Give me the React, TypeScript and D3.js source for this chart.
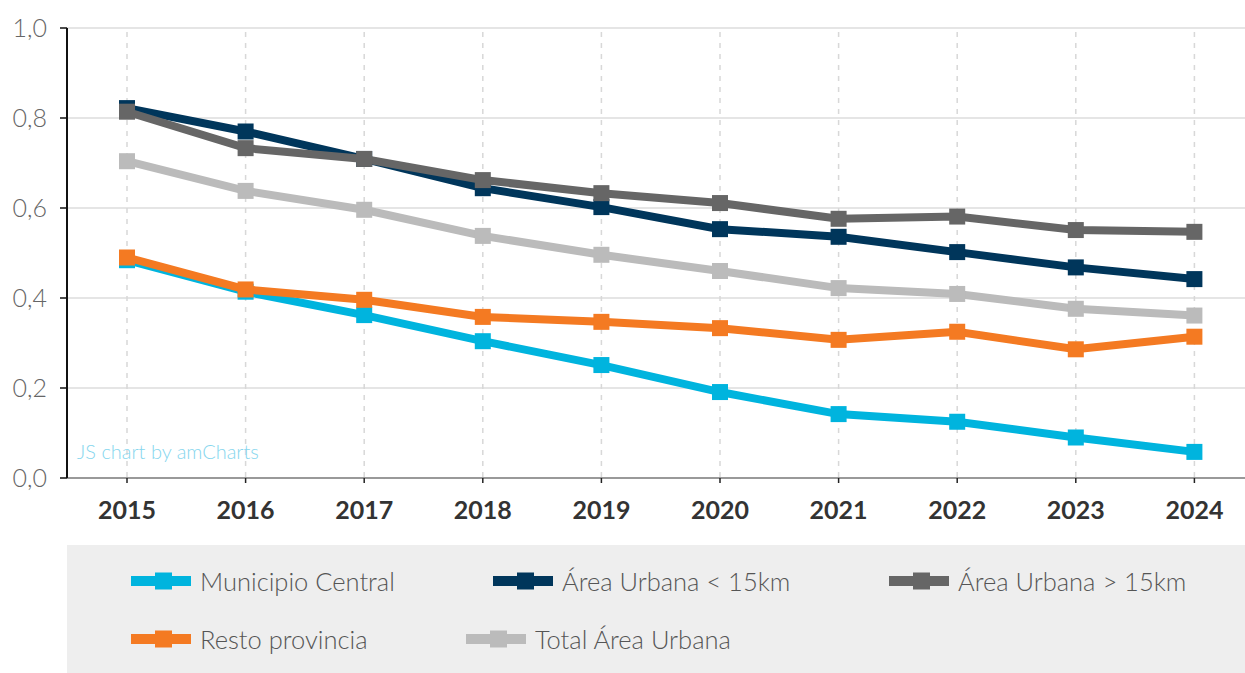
import React from "react";
import * as d3 from "d3";

const years = ["2015", "2016", "2017", "2018", "2019", "2020", "2021", "2022", "2023", "2024"];
const municipioCentral = [0.484, 0.414, 0.362, 0.304, 0.251, 0.191, 0.142, 0.125, 0.09, 0.058];
const areaMenos15 = [0.822, 0.77, 0.709, 0.644, 0.602, 0.553, 0.536, 0.502, 0.468, 0.442];
const areaMas15 = [0.814, 0.733, 0.709, 0.662, 0.633, 0.611, 0.576, 0.581, 0.551, 0.547];
const restoProvincia = [0.49, 0.419, 0.396, 0.358, 0.347, 0.333, 0.307, 0.325, 0.286, 0.314];
const totalAreaUrbana = [0.704, 0.638, 0.596, 0.538, 0.496, 0.46, 0.422, 0.409, 0.376, 0.361];
const yTicks = [0, 0.2, 0.4, 0.6, 0.8, 1.0];

const series = [
  { name: "Municipio Central", values: municipioCentral, color: "#00B4DE" },
  { name: "Área Urbana < 15km", values: areaMenos15, color: "#00365B" },
  { name: "Área Urbana > 15km", values: areaMas15, color: "#666666" },
  { name: "Resto provincia", values: restoProvincia, color: "#F47A22" },
  { name: "Total Área Urbana", values: totalAreaUrbana, color: "#BBBBBB" },
];

// legend placement (layout only)
const legendPos = [
  { x: 131, y: 581 },
  { x: 493, y: 581 },
  { x: 889, y: 581 },
  { x: 131, y: 639 },
  { x: 466, y: 639 },
];

export default function App() {
  const W = 1245, H = 673;
  const left = 67.7, right = 1253.7, top = 28, bottom = 478;
  const x = d3.scaleBand<string>().domain(years).range([left, right]);
  const y = d3.scaleLinear().domain([0, 1]).range([bottom, top]);
  const cx = (d: string) => (x(d) as number) + x.bandwidth() / 2;
  const line = d3
    .line<number>()
    .x((_, i) => cx(years[i]))
    .y((v) => y(v));
  const fmt = (v: number) => v.toFixed(1).replace(".", ",");
  const font = "Lato, 'Open Sans', sans-serif";

  return (
    <svg
      width={W}
      height={H}
      style={{ position: "absolute", left: 0, top: 0, background: "#fff" }}
      fontFamily={font}
    >
      {/* horizontal grid */}
      {yTicks.map((t) => (
        <line key={"g" + t} x1={67} x2={W} y1={y(t)} y2={y(t)} stroke="#dddddd" strokeWidth={1.5} />
      ))}
      {/* vertical dashed grid */}
      {years.map((yr) => (
        <line
          key={"v" + yr}
          x1={cx(yr)}
          x2={cx(yr)}
          y1={top + 4}
          y2={bottom}
          stroke="#d8d8d8"
          strokeWidth={1.5}
          strokeDasharray="5,6"
        />
      ))}
      {/* x axis */}
      <line x1={67} x2={W} y1={bottom} y2={bottom} stroke="#999" strokeWidth={2} />
      {years.map((yr) => (
        <line key={"xt" + yr} x1={cx(yr)} x2={cx(yr)} y1={bottom} y2={bottom + 5} stroke="#222" strokeWidth={1.5} />
      ))}
      {years.map((yr) => (
        <text
          key={"xl" + yr}
          x={cx(yr)}
          y={519}
          textAnchor="middle"
          fontSize={25}
          fontWeight={700}
          fill="#333"
        >
          {yr}
        </text>
      ))}
      {/* y axis */}
      <line x1={67} x2={67} y1={top} y2={bottom} stroke="#111" strokeWidth={2} />
      {yTicks.map((t) => (
        <g key={"yt" + t}>
          <line x1={60} x2={67} y1={y(t)} y2={y(t)} stroke="#111" strokeWidth={1.5} />
          <text x={47} y={y(t) + 9} textAnchor="end" fontSize={25} fontWeight={300} fill="#666">
            {fmt(t)}
          </text>
        </g>
      ))}
      {/* watermark */}
      <text x={77} y={459} fontSize={20} fontWeight={300} fill="#86d6ee">
        JS chart by amCharts
      </text>
      {/* series */}
      {series.map((s) => (
        <g key={s.name}>
          <path d={line(s.values) || ""} fill="none" stroke={s.color} strokeWidth={8} strokeLinejoin="miter" />
          {s.values.map((v, i) => (
            <rect key={i} x={cx(years[i]) - 8} y={y(v) - 8} width={16} height={16} fill={s.color} />
          ))}
        </g>
      ))}
      {/* legend */}
      <rect x={67} y={545} width={1178} height={128} fill="#eeeeee" />
      {series.map((s, i) => {
        const p = legendPos[i];
        return (
          <g key={"lg" + s.name}>
            <rect x={p.x} y={p.y - 5} width={60} height={10} fill={s.color} />
            <rect x={p.x + 24} y={p.y - 8.5} width={17} height={17} fill={s.color} />
            <text x={p.x + 69} y={p.y + 10} fontSize={25.5} fontWeight={300} fill="#555">
              {s.name}
            </text>
          </g>
        );
      })}
    </svg>
  );
}
